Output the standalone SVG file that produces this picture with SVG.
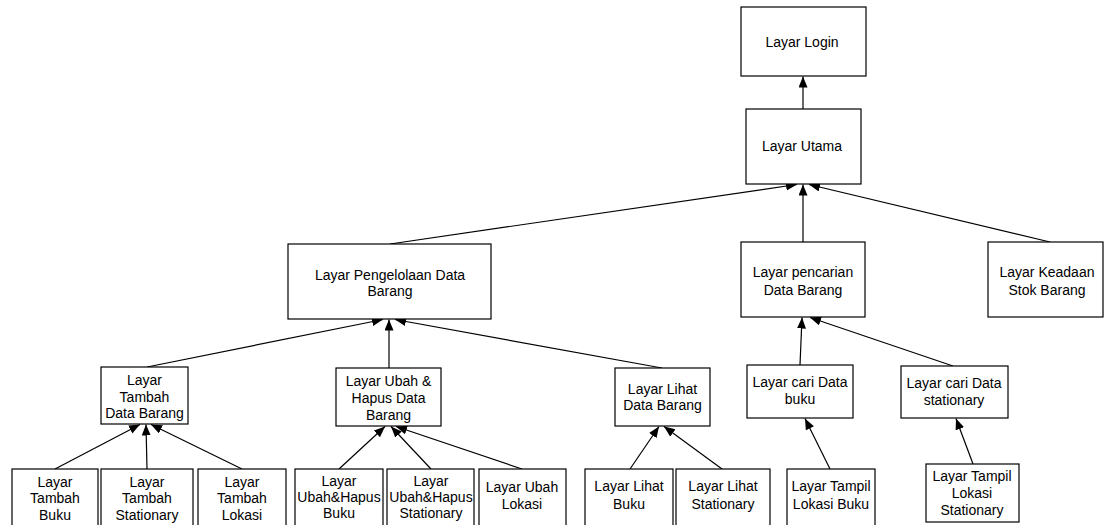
<svg xmlns="http://www.w3.org/2000/svg" width="1105" height="525" viewBox="0 0 1105 525">
<style>
.box{fill:#fff;stroke:#000;stroke-width:1.2}
.t{font-family:"Liberation Sans",Arial,sans-serif;font-size:14px;fill:#000;text-anchor:middle}
.c{stroke:#000;stroke-width:1.2;fill:none;marker-end:url(#ah)}
</style>
<defs>
<marker id="ah" markerUnits="userSpaceOnUse" markerWidth="12" markerHeight="10" refX="11" refY="4.5" orient="auto">
<path d="M0,0 L11,4.5 L0,9 z" fill="#000"/>
</marker>
</defs>
<rect width="1105" height="525" fill="#fff"/>
<g id="connectors">
<line class="c" x1="803" y1="109" x2="803" y2="76.5"/>
<line class="c" x1="390" y1="244" x2="797" y2="184.5"/>
<line class="c" x1="803" y1="242" x2="803" y2="184.5"/>
<line class="c" x1="1050" y1="242" x2="809" y2="184.5"/>
<line class="c" x1="147" y1="367" x2="383" y2="319.5"/>
<line class="c" x1="389" y1="368" x2="389" y2="319.5"/>
<line class="c" x1="662" y1="368" x2="395" y2="319.5"/>
<line class="c" x1="55" y1="469" x2="140" y2="424.5"/>
<line class="c" x1="147" y1="469" x2="146" y2="424.5"/>
<line class="c" x1="242" y1="469" x2="151" y2="424.5"/>
<line class="c" x1="339" y1="469" x2="385" y2="426.5"/>
<line class="c" x1="431" y1="469" x2="391" y2="426.5"/>
<line class="c" x1="522" y1="469" x2="396" y2="426.5"/>
<line class="c" x1="630" y1="469" x2="659" y2="426.5"/>
<line class="c" x1="722" y1="469" x2="664" y2="426.5"/>
<line class="c" x1="800" y1="365" x2="802" y2="317.5"/>
<line class="c" x1="953" y1="366" x2="810" y2="317.5"/>
<line class="c" x1="830" y1="469" x2="805" y2="418.5"/>
<line class="c" x1="973" y1="464" x2="956" y2="418.5"/>
</g>
<g id="login"><rect class="box" x="741" y="7" width="125" height="69"/><text class="t" x="802" y="46.5">Layar Login</text></g>
<g id="utama"><rect class="box" x="746" y="109" width="115" height="75"/><text class="t" x="802" y="150.5">Layar Utama</text></g>
<g id="pengelolaan"><rect class="box" x="288" y="244" width="203" height="75"/><text class="t" x="390" y="280">Layar Pengelolaan Data</text><text class="t" x="390" y="296">Barang</text></g>
<g id="pencarian"><rect class="box" x="741" y="242" width="124" height="75"/><text class="t" x="803" y="277">Layar pencarian</text><text class="t" x="803" y="295">Data Barang</text></g>
<g id="keadaan"><rect class="box" x="988" y="242" width="115" height="75"/><text class="t" x="1047" y="277">Layar Keadaan</text><text class="t" x="1047" y="295">Stok Barang</text></g>
<g id="tambah"><rect class="box" x="101" y="367" width="87" height="57"/><text class="t" x="144.5" y="385">Layar</text><text class="t" x="144.5" y="401.5">Tambah</text><text class="t" x="144.5" y="418">Data Barang</text></g>
<g id="ubah"><rect class="box" x="336" y="368" width="105" height="58"/><text class="t" x="388.5" y="386">Layar Ubah &amp;</text><text class="t" x="388.5" y="403">Hapus Data</text><text class="t" x="388.5" y="420">Barang</text></g>
<g id="lihat"><rect class="box" x="615" y="368" width="95" height="58"/><text class="t" x="662.5" y="394">Layar Lihat</text><text class="t" x="662.5" y="410">Data Barang</text></g>
<g id="caribuku"><rect class="box" x="747" y="365" width="106" height="53"/><text class="t" x="800" y="386.5">Layar cari Data</text><text class="t" x="800" y="404">buku</text></g>
<g id="caristat"><rect class="box" x="901" y="366" width="107" height="52"/><text class="t" x="954" y="387.5">Layar cari Data</text><text class="t" x="954" y="405">stationary</text></g>
<g id="tambahbuku"><rect class="box" x="12" y="469" width="86" height="62"/><text class="t" x="55" y="486.5">Layar</text><text class="t" x="55" y="503">Tambah</text><text class="t" x="55" y="520">Buku</text></g>
<g id="tambahstat"><rect class="box" x="101" y="469" width="92" height="62"/><text class="t" x="147" y="486.5">Layar</text><text class="t" x="147" y="503">Tambah</text><text class="t" x="147" y="520">Stationary</text></g>
<g id="tambahlok"><rect class="box" x="198" y="469" width="88" height="62"/><text class="t" x="242" y="486.5">Layar</text><text class="t" x="242" y="503">Tambah</text><text class="t" x="242" y="520">Lokasi</text></g>
<g id="ubahbuku"><rect class="box" x="295" y="469" width="88" height="62"/><text class="t" x="339" y="486">Layar</text><text class="t" x="339" y="502">Ubah&amp;Hapus</text><text class="t" x="339" y="518">Buku</text></g>
<g id="ubahstat"><rect class="box" x="387" y="469" width="87" height="62"/><text class="t" x="431" y="486">Layar</text><text class="t" x="431" y="502">Ubah&amp;Hapus</text><text class="t" x="431" y="518">Stationary</text></g>
<g id="ubahlok"><rect class="box" x="479" y="469" width="87" height="62"/><text class="t" x="522" y="492">Layar Ubah</text><text class="t" x="522" y="509">Lokasi</text></g>
<g id="lihatbuku"><rect class="box" x="585" y="469" width="88" height="62"/><text class="t" x="629" y="491">Layar Lihat</text><text class="t" x="629" y="509">Buku</text></g>
<g id="lihatstat"><rect class="box" x="676" y="469" width="94" height="62"/><text class="t" x="723" y="491">Layar Lihat</text><text class="t" x="723" y="509">Stationary</text></g>
<g id="tampilbuku"><rect class="box" x="787" y="469" width="88" height="62"/><text class="t" x="831" y="491">Layar Tampil</text><text class="t" x="831" y="509">Lokasi Buku</text></g>
<g id="tampilstat"><rect class="box" x="926" y="464" width="93" height="58"/><text class="t" x="972" y="481">Layar Tampil</text><text class="t" x="972" y="497.5">Lokasi</text><text class="t" x="972" y="515">Stationary</text></g>
</svg>
